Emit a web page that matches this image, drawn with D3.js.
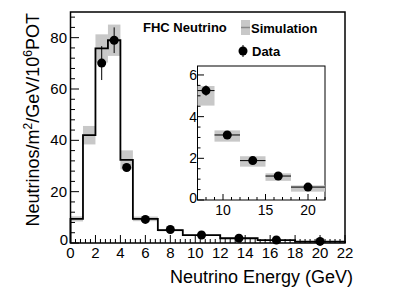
<!DOCTYPE html>
<html>
<head>
<meta charset="utf-8">
<script src="https://cdn.jsdelivr.net/npm/d3@7"></script>
<style>
  body { margin: 0; background: #fff; }
  svg { display: block; font-family: "Liberation Sans", Arial, sans-serif; }
</style>
</head>
<body>
<svg id="chart" width="407" height="297"></svg>
<script>
// histogram bin edges (GeV) and simulation per bin
var binEdges = [0, 1, 2, 3, 4, 5, 7, 9, 12, 15, 18, 22];
var simValues = [9.4, 42, 75.8, 79, 32.4, 9.4, 5.0, 3.07, 1.85, 1.1, 0.55];
var simErr = [1.0, 3.6, 5.5, 6.1, 3.7, 0.9, 0.47, 0.27, 0.25, 0.18, 0.15];

// data points
var dataX = [2.5, 3.5, 4.5, 6, 8, 10.5, 13.5, 16.5, 20];
var dataY = [70.1, 79.0, 29.4, 9.2, 5.25, 3.12, 1.89, 1.15, 0.62];
var dataErr = [6.6, 5.0, 1.5, 0.8, 0.25, 0.12, 0.08, 0.06, 0.05];
var dataBinLo = [2, 3, 4, 5, 7, 9, 12, 15, 18];
var dataBinHi = [3, 4, 5, 7, 9, 12, 15, 18, 22];

var xTicks = [0, 2, 4, 6, 8, 10, 12, 14, 16, 18, 20, 22];
var yTicks = [0, 20, 40, 60, 80];
var insetXTicks = [10, 15, 20];
var insetYTicks = [0, 2, 4, 6];

var svg = d3.select('#chart');
var gray = '#c8c8c8';

var bins = simValues.map(function(v, i) {
  return {lo: binEdges[i], hi: binEdges[i + 1], v: v, e: simErr[i]};
});
var pts = dataX.map(function(x, i) {
  return {x: x, y: dataY[i], e: dataErr[i], lo: dataBinLo[i], hi: dataBinHi[i]};
});

// ---------- main frame ----------
var x = d3.scaleLinear().domain([0, 22]).range([70.5, 345]);
var y = d3.scaleLinear().domain([0, 90]).range([243, 12]);

var main = svg.append('g');

main.selectAll('rect.band')
  .data(bins)
  .enter().append('rect')
  .attr('class', 'band')
  .attr('x', d => x(d.lo))
  .attr('width', d => x(d.hi) - x(d.lo))
  .attr('y', d => y(d.v + d.e))
  .attr('height', d => y(d.v - d.e) - y(d.v + d.e))
  .attr('fill', gray);

// step histogram
var stepPts = [[binEdges[0], 0]];
bins.forEach(function(b) { stepPts.push([b.lo, b.v]); stepPts.push([b.hi, b.v]); });
stepPts.push([binEdges[binEdges.length - 1], 0]);
main.append('path')
  .attr('d', d3.line().x(d => x(d[0])).y(d => y(d[1]))(stepPts))
  .attr('fill', 'none')
  .attr('stroke', '#000')
  .attr('stroke-width', 1.8);

// data
main.selectAll('line.err')
  .data(pts)
  .enter().append('line')
  .attr('x1', d => x(d.x)).attr('x2', d => x(d.x))
  .attr('y1', d => y(d.y - d.e)).attr('y2', d => y(d.y + d.e))
  .attr('stroke', '#000').attr('stroke-width', 1);
main.selectAll('circle.pt')
  .data(pts)
  .enter().append('circle')
  .attr('cx', d => x(d.x)).attr('cy', d => y(d.y))
  .attr('r', 4.5).attr('fill', '#000');

// ticks (inward, ROOT style)
var xMinor = d3.range(0, 22.001, 0.4);
main.selectAll('line.xmin').data(xMinor).enter().append('line')
  .attr('x1', d => x(d)).attr('x2', d => x(d))
  .attr('y1', 243).attr('y2', d => (Math.abs(d / 2 - Math.round(d / 2)) < 1e-6) ? 235 : 239)
  .attr('stroke', '#000').attr('stroke-width', 1);
var yMinor = d3.range(0, 90.001, 4);
main.selectAll('line.ymin').data(yMinor).enter().append('line')
  .attr('y1', d => y(d)).attr('y2', d => y(d))
  .attr('x1', 70.5).attr('x2', d => (d % 20 === 0) ? 79 : 75)
  .attr('stroke', '#000').attr('stroke-width', 1);

main.append('rect')
  .attr('x', 70.5).attr('y', 12)
  .attr('width', 345 - 70.5).attr('height', 243 - 12)
  .attr('fill', 'none').attr('stroke', '#000').attr('stroke-width', 1.5);

main.selectAll('text.xl').data(xTicks).enter().append('text')
  .attr('x', d => x(d)).attr('y', 258)
  .attr('text-anchor', 'middle').attr('font-size', 15)
  .text(d => d);
main.selectAll('text.yl').data(yTicks).enter().append('text')
  .attr('x', d => d === 0 ? 68 : 67).attr('y', d => y(d) + 5 - (d === 0 ? 3 : 0))
  .attr('text-anchor', 'end').attr('font-size', 15)
  .text(d => d);

// axis titles
svg.append('text')
  .attr('x', 353).attr('y', 283)
  .attr('text-anchor', 'end').attr('font-size', 18)
  .text('Neutrino Energy (GeV)');

var yt = svg.append('text')
  .attr('transform', 'translate(39,13) rotate(-90)')
  .attr('text-anchor', 'end').attr('font-size', 18);
yt.append('tspan').text('Neutrinos/m');
yt.append('tspan').attr('dy', -7).attr('font-size', 12).text('2');
yt.append('tspan').attr('dy', 7).text('/GeV/10');
yt.append('tspan').attr('dy', -7).attr('font-size', 12).text('6');
yt.append('tspan').attr('dy', 7).text('POT');

// legend
svg.append('text').attr('x', 143).attr('y', 32)
  .attr('font-size', 13).attr('font-weight', 'bold').text('FHC Neutrino');
svg.append('rect').attr('x', 241).attr('y', 20).attr('width', 9).attr('height', 15).attr('fill', gray);
svg.append('line').attr('x1', 241).attr('x2', 250).attr('y1', 27.5).attr('y2', 27.5)
  .attr('stroke', '#888').attr('stroke-width', 1.5);
svg.append('text').attr('x', 251).attr('y', 33)
  .attr('font-size', 13).attr('font-weight', 'bold').text('Simulation');
svg.append('line').attr('x1', 243).attr('x2', 243).attr('y1', 45).attr('y2', 57)
  .attr('stroke', '#000').attr('stroke-width', 1);
svg.append('circle').attr('cx', 243).attr('cy', 51).attr('r', 4.5).attr('fill', '#000');
svg.append('text').attr('x', 252).attr('y', 56)
  .attr('font-size', 13).attr('font-weight', 'bold').text('Data');

// ---------- inset ----------
var ix = d3.scaleLinear().domain([7, 22]).range([197.5, 325]);
var iy = d3.scaleLinear().domain([0, 6.43]).range([200, 66]);
var inset = svg.append('g');
inset.append('rect')
  .attr('x', 197.5).attr('y', 66).attr('width', 325 - 197.5).attr('height', 200 - 66)
  .attr('fill', '#fff').attr('stroke', '#000').attr('stroke-width', 1);

var ibins = bins.filter(d => d.lo >= 7);
inset.selectAll('rect.band').data(ibins).enter().append('rect')
  .attr('x', d => ix(d.lo)).attr('width', d => ix(d.hi) - ix(d.lo))
  .attr('y', d => iy(d.v + d.e))
  .attr('height', d => iy(d.v - d.e) - iy(d.v + d.e))
  .attr('fill', gray);

var ipts = pts.filter(d => d.x >= 7);
inset.selectAll('line.xe').data(ipts).enter().append('line')
  .attr('x1', d => ix(d.lo)).attr('x2', d => ix(d.hi))
  .attr('y1', d => iy(d.y)).attr('y2', d => iy(d.y))
  .attr('stroke', '#000').attr('stroke-width', 1);
inset.selectAll('line.ye').data(ipts).enter().append('line')
  .attr('x1', d => ix(d.x)).attr('x2', d => ix(d.x))
  .attr('y1', d => iy(d.y - d.e)).attr('y2', d => iy(d.y + d.e))
  .attr('stroke', '#000').attr('stroke-width', 1);
inset.selectAll('circle').data(ipts).enter().append('circle')
  .attr('cx', d => ix(d.x)).attr('cy', d => iy(d.y))
  .attr('r', 4.5).attr('fill', '#000');

var ixMinor = d3.range(7, 22.001, 1);
inset.selectAll('line.xmin').data(ixMinor).enter().append('line')
  .attr('x1', d => ix(d)).attr('x2', d => ix(d))
  .attr('y1', 200).attr('y2', d => d % 5 === 0 ? 194 : 197)
  .attr('stroke', '#000').attr('stroke-width', 1);
var iyMinor = d3.range(0, 6.43, 0.5);
inset.selectAll('line.ymin').data(iyMinor).enter().append('line')
  .attr('y1', d => iy(d)).attr('y2', d => iy(d))
  .attr('x1', 197.5).attr('x2', d => d % 2 === 0 ? 204 : 200.5)
  .attr('stroke', '#000').attr('stroke-width', 1);

inset.selectAll('text.xl').data(insetXTicks).enter().append('text')
  .attr('x', d => ix(d)).attr('y', 215)
  .attr('text-anchor', 'middle').attr('font-size', 14)
  .text(d => d);
inset.selectAll('text.yl').data(insetYTicks).enter().append('text')
  .attr('x', 197).attr('y', d => iy(d) + 5 - (d === 0 ? 2 : 0))
  .attr('text-anchor', 'end').attr('font-size', 14)
  .text(d => d);
</script>
</body>
</html>
